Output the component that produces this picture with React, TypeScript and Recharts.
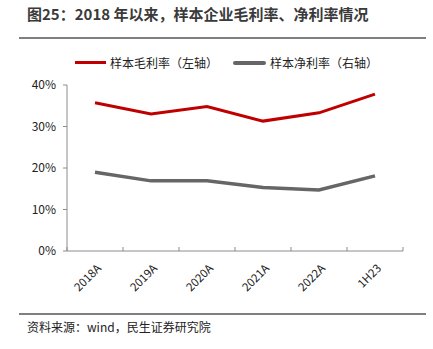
import { LineChart, Line, XAxis, YAxis } from 'recharts'

const categories = ['2018A', '2019A', '2020A', '2021A', '2022A', '1H23']
const grossMargin = [35.7, 33.0, 34.8, 31.3, 33.3, 37.8]
const netMargin = [19.0, 16.9, 16.9, 15.3, 14.7, 18.1]
const yTicks = [0, 10, 20, 30, 40]

const title = '图25：2018 年以来，样本企业毛利率、净利率情况'
const source = '资料来源：wind，民生证券研究院'
const grossName = '样本毛利率（左轴）'
const netName = '样本净利率（右轴）'

const data = categories.map((c, i) => ({ name: c, gross: grossMargin[i], net: netMargin[i] }))

const font = '"Noto Sans CJK SC", "Noto Sans", sans-serif'
const axisColor = '#8c8c8c'

function XTick(props: any) {
  const { x, y, payload, index, width, visibleTicksCount } = props
  const band = width / visibleTicksCount
  const tx = x + 7
  const ty = y + 18
  return (
    <g>
      <line x1={x - band / 2} y1={y} x2={x - band / 2} y2={y - 4} stroke={axisColor} />
      {index === visibleTicksCount - 1 && (
        <line x1={x + band / 2} y1={y} x2={x + band / 2} y2={y - 4} stroke={axisColor} />
      )}
      <text
        x={tx}
        y={ty}
        textAnchor="end"
        fontSize={11.5}
        fill="#222"
        fontFamily={font}
        transform={`rotate(-45 ${tx} ${ty})`}
      >
        {payload.value}
      </text>
    </g>
  )
}

export default function App() {
  return (
    <div style={{ position: 'absolute', left: 0, top: 0, width: 433, height: 349, background: '#fff', fontFamily: font }}>
      <div style={{ position: 'absolute', left: 27, top: 3, fontSize: 15, fontWeight: 700, color: '#3a3a3a', whiteSpace: 'nowrap' }}>
        {title}
      </div>
      <div style={{ position: 'absolute', left: 19, top: 37, width: 407, height: 2, background: '#7f7f7f' }} />

      <div style={{ position: 'absolute', left: 75, top: 54, display: 'flex', alignItems: 'center', fontSize: 12, color: '#222' }}>
        <span style={{ display: 'inline-block', width: 31, height: 3, background: '#C00000', marginRight: 4 }} />
        <span>{grossName}</span>
      </div>
      <div style={{ position: 'absolute', left: 233, top: 54, display: 'flex', alignItems: 'center', fontSize: 12, color: '#222' }}>
        <span style={{ display: 'inline-block', width: 33, height: 4, borderRadius: 2, background: '#666666', marginRight: 4 }} />
        <span>{netName}</span>
      </div>

      <div style={{ position: 'absolute', left: 0, top: 0 }}>
        <LineChart width={433} height={349} data={data} margin={{ top: 85, right: 30, bottom: 38, left: 17 }}>
          <XAxis
            dataKey="name"
            scale="band"
            height={60}
            interval={0}
            tickSize={0}
            tickMargin={0}
            axisLine={{ stroke: axisColor }}
            tick={<XTick />}
          />
          <YAxis
            yAxisId="left"
            width={50}
            domain={[0, 40]}
            ticks={yTicks}
            tickFormatter={(v) => `${v}%`}
            tickSize={4}
            tickMargin={7}
            axisLine={{ stroke: axisColor }}
            tickLine={{ stroke: axisColor }}
            tick={{ fontSize: 12, fill: '#222', fontFamily: font }}
          />
          <YAxis yAxisId="right" orientation="right" hide domain={[0, 40]} />
          <Line yAxisId="left" type="linear" dataKey="gross" name={grossName} stroke="#C00000" strokeWidth={3} dot={false} isAnimationActive={false} />
          <Line yAxisId="right" type="linear" dataKey="net" name={netName} stroke="#666666" strokeWidth={3.5} dot={false} isAnimationActive={false} />
        </LineChart>
      </div>

      <div style={{ position: 'absolute', left: 19, top: 313, width: 407, height: 2, background: '#7f7f7f' }} />
      <div style={{ position: 'absolute', left: 27, top: 318, fontSize: 12, color: '#222', whiteSpace: 'nowrap' }}>
        {source}
      </div>
    </div>
  )
}
